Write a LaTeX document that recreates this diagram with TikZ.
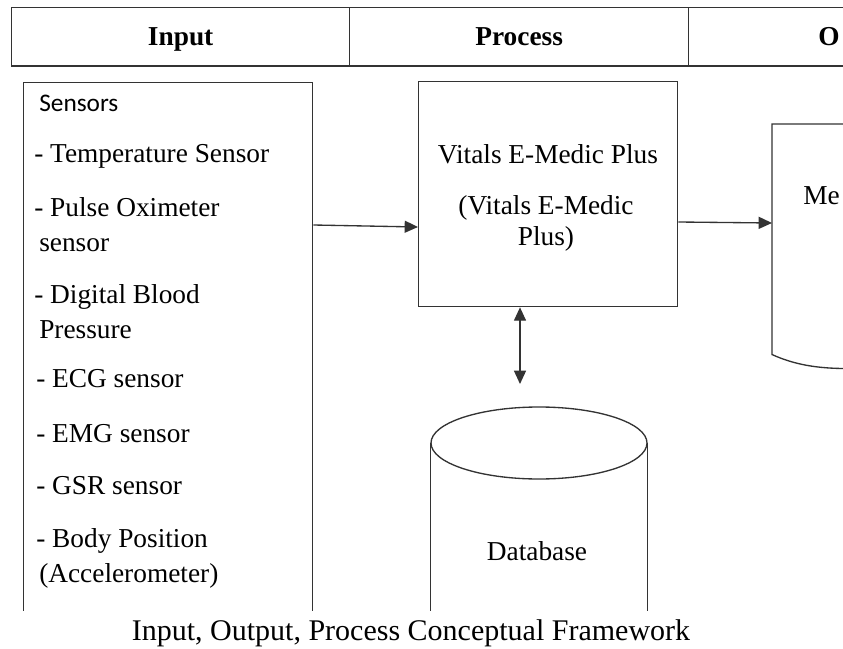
\documentclass[tikz,border=0pt]{standalone}
\usepackage{fontspec}
\setmainfont{Liberation Serif}
\newfontfamily\calibfont{Carlito}
\usetikzlibrary{arrows.meta}
\newdimen\pxu
\pxu=0.75pt
\begin{document}
\begin{tikzpicture}[x=0.75pt,y=-0.75pt,
  line/.style={draw=black!80, line width=1pt},
  arr/.style={line, -{Triangle[length=10pt,width=9pt]}},
  dblarr/.style={line, {Triangle[length=10pt,width=9pt]}-{Triangle[length=10pt,width=9pt]}},
  hcell/.style={line, anchor=north west, inner sep=0pt, minimum height=58\pxu},
  box/.style={line, anchor=north west, inner sep=0pt},
  txt/.style={inner sep=0pt, font=\fontsize{20.5}{24}\selectfont},
  ltxt/.style={txt, anchor=base west},
  ctxt/.style={txt, anchor=base},
  htxt/.style={txt, anchor=base, font=\fontsize{20.5}{24}\selectfont\bfseries}
]
\useasboundingbox (0,0) rectangle (843,649);
\clip (0,0) rectangle (843,649);

% header
\node[hcell, minimum width=338\pxu] (hin) at (11,7) {};
\node[hcell, minimum width=339\pxu] (hpr) at (349,7) {};
\node[hcell, minimum width=200\pxu] (hout) at (688,7) {};
\draw[draw=black!80, line width=1.6pt] (hin.south west) -- (hout.south east);
\node[htxt] (thin) at (hin.center |- 0,46) {Input};
\node[htxt] (thpr) at (hpr.center |- 0,46) {Process};
\node[htxt, anchor=base west] (thout) at (818,46) {O};

% sensors box
\node[box, minimum width=289\pxu, minimum height=620\pxu] (sens) at (23,82) {};
\node[inner sep=0pt, anchor=base west, font=\calibfont\fontsize{19}{22}\selectfont] (s0) at (39,112) {Sensors};
\node[ltxt] (s1) at (34,163) {- Temperature Sensor};
\node[ltxt] (s2) at (34,217) {- Pulse Oximeter};
\node[ltxt] (s2b) at (39,252) {sensor};
\node[ltxt] (s3) at (34,303) {- Digital Blood};
\node[ltxt] (s3b) at (39,338) {Pressure};
\node[ltxt] (s4) at (36,387) {- ECG sensor};
\node[ltxt] (s5) at (36,442) {- EMG sensor};
\node[ltxt] (s6) at (36,494) {- GSR sensor};
\node[ltxt] (s7) at (36,547) {- Body Position};
\node[ltxt] (s7b) at (39,582) {(Accelerometer)};

% process box
\node[box, minimum width=259\pxu, minimum height=225\pxu] (proc) at (418,81) {};
\node[ctxt] (p1) at (548,164) {Vitals E-Medic Plus};
\node[ctxt] (p2) at (546,215) {(Vitals E-Medic};
\node[ctxt] (p3) at (546,246) {Plus)};

% output document shape
\node[anchor=north west, inner sep=0pt, minimum width=110\pxu, minimum height=230\pxu] (outp) at (772,124) {};
\draw[line] (outp.north east) -- (outp.north west) -- (outp.south west)
  .. controls +(22,10) and +(-30,0) .. +(75,14);
\node[ltxt] (o1) at (803,205) {Me};

% database cylinder
\node[anchor=north, inner sep=0pt, minimum width=216\pxu, minimum height=300\pxu] (db) at (539,407) {};
\draw[line] (db.north west |- 0,443) -- (db.south west);
\draw[line] (db.north east |- 0,443) -- (db.south east);
\draw[line] (539,443) ellipse [x radius=108, y radius=36];
\node[ctxt] (dbt) at (537,560) {Database};
\coordinate (dbin) at (520,384);

% connectors
\draw[arr] (sens.east |- 0,225) -- (proc.west |- 0,227);
\draw[arr] (proc.east |- 0,222) -- (outp.west |- 0,223);
\draw[dblarr] (proc.south -| 520,0) -- (dbin);

% caption
\fill[white] (0,611) rectangle (843,649);
\node[ctxt, font=\fontsize{22.5}{26}\selectfont] (cap) at (411,640) {Input, Output, Process Conceptual Framework};
\end{tikzpicture}
\end{document}
